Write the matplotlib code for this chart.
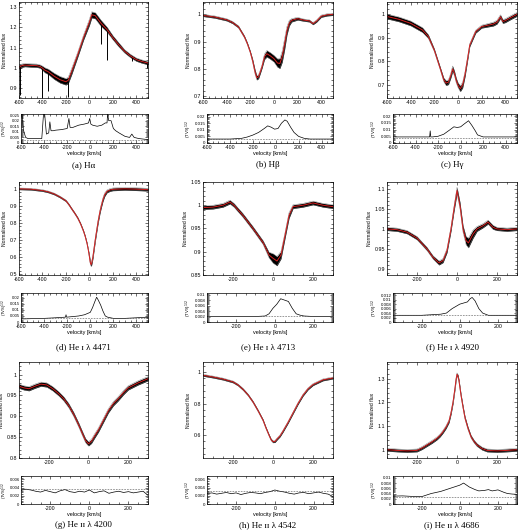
# Line profiles and TVS for nine lines (3x3 grid, each with a TVS strip below)

import matplotlib
matplotlib.use("Agg")
import matplotlib.pyplot as plt
import numpy as np
from matplotlib.ticker import MultipleLocator, FuncFormatter

# ---- (a) H alpha ----
v_a = [-600, -575, -550, -500, -450, -420, -400, -380, -350, -300, -250, -200, -180, -150,
       -100, -50, 0, 20, 50, 100, 150, 200, 250, 300, 350, 400, 450, 500]
f_a = [1.005, 1.012, 1.015, 1.013, 1.012, 1.008, 1.0, 0.99, 0.982, 0.96, 0.943, 0.933, 0.94, 0.985,
       1.065, 1.15, 1.225, 1.262, 1.258, 1.22, 1.19, 1.15, 1.115, 1.083, 1.06, 1.042, 1.032, 1.025]
s_a = [0.01, 0.008, 0.008, 0.008, 0.008, 0.008, 0.01, 0.012, 0.013, 0.015, 0.016, 0.016, 0.015, 0.015,
       0.012, 0.012, 0.015, 0.015, 0.015, 0.015, 0.012, 0.01, 0.01, 0.008, 0.008, 0.008, 0.008, 0.008]
tell_v_a = [-590, -400, -350, -185, 100, 150, 365, 495]
tell_lo_a = [0.87, 0.855, 0.885, 0.86, 1.12, 1.04, 1.035, 1.0]
tv_a = [-600, -590, -580, -560, -540, -500, -450, -420, -405, -395, -380, -360, -350, -340, -320,
        -300, -250, -200, -185, -175, -150, -100, -50, -15, -5, 5, 20, 60, 100, 130, 145, 150,
        160, 180, 200, 220, 250, 300, 340, 360, 380, 420, 460, 500]
tvs_a = [0.026, 0.026, 0.012, 0.005, 0.004, 0.004, 0.004, 0.004, 0.026, 0.026, 0.008, 0.009, 0.019,
         0.011, 0.011, 0.0115, 0.012, 0.013, 0.022, 0.014, 0.014, 0.016, 0.017, 0.018, 0.022, 0.017,
         0.016, 0.015, 0.016, 0.018, 0.018, 0.026, 0.02, 0.02, 0.013, 0.011, 0.009, 0.006, 0.005,
         0.008, 0.005, 0.004, 0.0035, 0.003]

# ---- (b) H beta ----
v_b = [-600, -500, -400, -350, -300, -250, -225, -200, -180, -160, -145, -130, -115, -100, -80,
       -60, -30, 0, 30, 50, 70, 90, 110, 130, 150, 200, 250, 300, 330, 360, 400, 450, 500]
f_b = [0.996, 0.99, 0.98, 0.97, 0.954, 0.918, 0.893, 0.862, 0.83, 0.79, 0.768, 0.772, 0.79, 0.81,
       0.845, 0.856, 0.848, 0.838, 0.822, 0.82, 0.845, 0.89, 0.94, 0.968, 0.978, 0.984, 0.979,
       0.976, 0.966, 0.975, 0.993, 0.998, 1.0]
s_b = [0.004, 0.004, 0.004, 0.004, 0.004, 0.004, 0.004, 0.004, 0.006, 0.008, 0.008, 0.007, 0.006,
       0.006, 0.01, 0.012, 0.012, 0.012, 0.015, 0.018, 0.02, 0.02, 0.015, 0.01, 0.006, 0.005,
       0.004, 0.004, 0.004, 0.004, 0.004, 0.004, 0.004]
tv_b = [-600, -500, -400, -300, -250, -200, -150, -100, -70, -40, -10, 20, 50, 80, 100, 130,
        160, 200, 250, 300, 400, 500]
tvs_b = [0.003, 0.003, 0.003, 0.0035, 0.0045, 0.006, 0.008, 0.011, 0.013, 0.012, 0.0105, 0.011,
         0.015, 0.0175, 0.0165, 0.012, 0.008, 0.005, 0.0035, 0.003, 0.003, 0.003]

# ---- (c) H gamma ----
v_c = [-600, -500, -400, -300, -250, -200, -150, -120, -100, -80, -60, -45, -30, -15, 0, 20,
       40, 60, 80, 100, 150, 200, 300, 330, 360, 380, 400, 450, 500]
f_c = [0.989, 0.977, 0.96, 0.932, 0.904, 0.847, 0.77, 0.722, 0.708, 0.712, 0.74, 0.768, 0.75,
       0.72, 0.7, 0.684, 0.7, 0.745, 0.805, 0.868, 0.925, 0.946, 0.957, 0.965, 0.988, 0.968,
       0.971, 0.985, 0.998]
s_c = [0.01, 0.01, 0.01, 0.01, 0.008, 0.006, 0.006, 0.008, 0.01, 0.01, 0.01, 0.012, 0.01, 0.01,
       0.01, 0.012, 0.012, 0.01, 0.008, 0.006, 0.006, 0.006, 0.008, 0.008, 0.008, 0.008, 0.008,
       0.008, 0.008]
tv_c = [-600, -500, -400, -300, -275, -270, -265, -250, -200, -150, -100, -60, -30, 0, 30, 70,
        100, 130, 150, 200, 300, 400, 500]
tvs_c = [0.0045, 0.0045, 0.0045, 0.0045, 0.0045, 0.009, 0.0045, 0.0045, 0.005, 0.0065, 0.0095,
         0.012, 0.0115, 0.012, 0.014, 0.0165, 0.013, 0.009, 0.006, 0.0045, 0.0045, 0.0045, 0.0045]

# ---- (d) He I 4471 ----
v_d = [-600, -500, -400, -350, -300, -250, -200, -175, -150, -125, -100, -75, -50, -35, -20, -10,
       0, 5, 10, 15, 20, 30, 40, 50, 60, 75, 90, 100, 115, 130, 150, 175, 200, 300, 400, 500]
f_d = [1.0, 0.998, 0.99, 0.982, 0.97, 0.952, 0.93, 0.908, 0.882, 0.857, 0.83, 0.795, 0.752, 0.72,
       0.68, 0.645, 0.605, 0.58, 0.562, 0.556, 0.565, 0.6, 0.65, 0.7, 0.745, 0.81, 0.865, 0.895,
       0.935, 0.965, 0.985, 0.993, 0.997, 1.0, 0.998, 0.995]
s_d = [0.005] * 16 + [0.01] * 14 + [0.008] * 6
tv_d = [-600, -500, -400, -300, -215, -210, -205, -150, -100, -50, 0, 20, 40, 55, 70, 90, 110,
        130, 150, 200, 300, 400, 500]
tvs_d = [0.0025, 0.0028, 0.003, 0.0035, 0.004, 0.006, 0.004, 0.0045, 0.005, 0.006, 0.008, 0.012,
         0.017, 0.0205, 0.018, 0.014, 0.009, 0.005, 0.004, 0.003, 0.003, 0.0035, 0.004]

# ---- (e) He I 4713 ----
v_e = [-350, -300, -250, -215, -195, -150, -100, -50, -20, 0, 20, 40, 60, 80, 100, 150, 200,
       250, 300]
f_e = [0.995, 0.996, 1.0, 1.007, 1.0, 0.978, 0.95, 0.92, 0.893, 0.886, 0.88, 0.893, 0.935,
       0.978, 0.997, 1.0, 1.005, 1.0, 0.997]
s_e = [0.004, 0.004, 0.004, 0.004, 0.004, 0.004, 0.004, 0.004, 0.006, 0.01, 0.01, 0.008, 0.006,
       0.006, 0.004, 0.004, 0.004, 0.004, 0.004]
tv_e = [-350, -300, -250, -200, -150, -100, -50, -30, -10, 10, 30, 50, 70, 90, 110, 130, 150,
        200, 250, 300]
tvs_e = [0.002, 0.002, 0.002, 0.002, 0.002, 0.002, 0.0022, 0.003, 0.005, 0.0065, 0.0085, 0.008,
         0.0075, 0.005, 0.003, 0.0025, 0.0022, 0.002, 0.002, 0.002]

# ---- (f) He I 4920 ----
v_f = [-350, -300, -250, -200, -150, -120, -90, -70, -50, -30, -15, 0, 15, 30, 45, 57, 80, 100,
       130, 155, 180, 200, 250, 300]
f_f = [1.0, 0.998, 0.992, 0.977, 0.95, 0.929, 0.915, 0.921, 0.946, 1.0, 1.05, 1.096, 1.058, 1.0,
       0.971, 0.965, 0.987, 1.0, 1.008, 1.017, 1.004, 1.0, 0.998, 1.0]
s_f = [0.004, 0.004, 0.004, 0.004, 0.004, 0.004, 0.005, 0.005, 0.005, 0.005, 0.006, 0.008,
       0.008, 0.008, 0.01, 0.012, 0.01, 0.006, 0.005, 0.005, 0.005, 0.004, 0.004, 0.004]
tv_f = [-350, -300, -200, -100, -70, -40, -10, 0, 20, 40, 55, 65, 80, 100, 120, 150, 200, 300]
tvs_f = [0.003, 0.003, 0.003, 0.0035, 0.004, 0.006, 0.0075, 0.008, 0.0085, 0.009, 0.0105, 0.011,
         0.0095, 0.006, 0.004, 0.003, 0.003, 0.003]

# ---- (g) He II 4200 ----
v_g = [-350, -325, -300, -270, -240, -210, -180, -150, -125, -100, -75, -50, -30, -15, 0, 15,
       30, 50, 75, 100, 125, 150, 175, 200, 250, 300]
f_g = [0.972, 0.968, 0.966, 0.972, 0.977, 0.975, 0.966, 0.954, 0.942, 0.926, 0.905, 0.88, 0.858,
       0.842, 0.834, 0.84, 0.852, 0.867, 0.89, 0.913, 0.93, 0.942, 0.956, 0.968, 0.98, 0.99]
s_g = [0.005] * len(v_g)
tv_g = list(range(-350, 301, 25))
tvs_g = [0.0033, 0.0036, 0.0034, 0.0031, 0.0029, 0.0033, 0.0030, 0.0027, 0.0032, 0.0035, 0.0030,
         0.0028, 0.0031, 0.0029, 0.0034, 0.0027, 0.0030, 0.0032, 0.0026, 0.0029, 0.0031, 0.0028,
         0.0030, 0.0027, 0.0029, 0.0031, 0.0021]

# ---- (h) He II 4542 ----
v_h = [-350, -300, -250, -200, -175, -150, -125, -100, -75, -50, -35, -20, -10, 0, 10, 20, 35,
       50, 75, 100, 125, 150, 175, 200, 250, 300]
f_h = [0.979, 0.968, 0.955, 0.937, 0.918, 0.89, 0.855, 0.81, 0.755, 0.695, 0.645, 0.6, 0.572,
       0.558, 0.56, 0.575, 0.595, 0.625, 0.68, 0.74, 0.8, 0.853, 0.893, 0.92, 0.95, 0.962]
s_h = [0.006] * len(v_h)
tv_h = list(range(-350, 301, 25))
tvs_h = [0.0025, 0.0027, 0.0024, 0.0026, 0.0028, 0.0025, 0.0027, 0.0023, 0.0026, 0.0028, 0.0027,
         0.0025, 0.0028, 0.0030, 0.0034, 0.0031, 0.0029, 0.0026, 0.0024, 0.0027, 0.0028, 0.0025,
         0.0027, 0.0029, 0.0026, 0.0024, 0.0018]

# ---- (i) He II 4686 ----
v_i = [-350, -300, -250, -200, -175, -150, -125, -100, -85, -70, -55, -40, -30, -20, -10, -5, 0,
       5, 10, 20, 30, 40, 55, 70, 85, 100, 125, 150, 200, 250, 300]
f_i = [1.0, 0.997, 0.995, 0.997, 1.007, 1.02, 1.033, 1.048, 1.06, 1.076, 1.095, 1.12, 1.155, 1.2,
       1.26, 1.295, 1.318, 1.31, 1.29, 1.23, 1.18, 1.134, 1.09, 1.055, 1.035, 1.02, 1.005, 0.997,
       0.995, 0.997, 1.0]
s_i = [0.006] * len(v_i)
tv_i = [-350, -300, -250, -200, -150, -100, -50, 0, 20, 50, 80, 100, 130, 150, 170, 200, 230,
        250, 275, 300]
tvs_i = [0.003, 0.0031, 0.0029, 0.0028, 0.004, 0.0048, 0.006, 0.0072, 0.008, 0.0065, 0.0055,
         0.005, 0.0052, 0.0055, 0.005, 0.0054, 0.0045, 0.004, 0.0038, 0.0037]

captions = ["(a) H\u03b1", "(b) H\u03b2", "(c) H\u03b3",
            "(d) He \u026a \u03bb 4471", "(e) He \u026a \u03bb 4713", "(f) He \u026a \u03bb 4920",
            "(g) He \u026a\u026a \u03bb 4200", "(h) He \u026a\u026a \u03bb 4542", "(i) He \u026a\u026a \u03bb 4686"]
sig_level = [0.003, 0.0028, 0.004, 0.003, 0.0022, 0.003, 0.0037, 0.0032, 0.0025]

panels = [
    (v_a, f_a, s_a, tv_a, tvs_a, (-600, 500), (0.853, 1.325), 0.1, (0, 0.026), 0.005),
    (v_b, f_b, s_b, tv_b, tvs_b, (-600, 500), (0.694, 1.045), 0.1, (0, 0.022), 0.005),
    (v_c, f_c, s_c, tv_c, tvs_c, (-600, 500), (0.645, 1.05), 0.1, (0, 0.0215), 0.005),
    (v_d, f_d, s_d, tv_d, tvs_d, (-600, 500), (0.495, 1.04), 0.1, (0, 0.024), 0.005),
    (v_e, f_e, s_e, tv_e, tvs_e, (-350, 300), (0.85, 1.05), 0.05, (0, 0.0106), 0.002),
    (v_f, f_f, s_f, tv_f, tvs_f, (-350, 300), (0.885, 1.117), 0.05, (0, 0.013), 0.002),
    (v_g, f_g, s_g, tv_g, tvs_g, (-350, 300), (0.8, 1.03), 0.05, (0, 0.0068), 0.002),
    (v_h, f_h, s_h, tv_h, tvs_h, (-350, 300), (0.455, 1.063), 0.2, (0, 0.0068), 0.002),
    (v_i, f_i, s_i, tv_i, tvs_i, (-350, 300), (0.965, 1.37), 0.1, (0, 0.0107), 0.002),
]

W, H = 520, 532
cols_main = [(19, 148), (203, 333), (387, 517)]
cols_tvs = [(21, 148), (207, 333), (393, 517)]
rows_main = [(2, 98), (182, 275), (362, 458)]
rows_tvs = [(114, 143), (293, 322), (476, 504)]
caption_y = [165, 347, 525]

plt.rcParams["font.family"] = ["Liberation Sans", "DejaVu Sans"]
plt.rcParams["font.size"] = 4
plt.rcParams["axes.linewidth"] = 0.5

fig = plt.figure(figsize=(W / 100, H / 100), dpi=100)


def box(l, t, r, b):
    return [l / W, 1 - b / H, (r - l) / W, (b - t) / H]


fmt = FuncFormatter(lambda x, pos: f"{round(x, 6):g}")


def style(ax, ymaj, ysize):
    ax.xaxis.set_major_locator(MultipleLocator(200))
    ax.xaxis.set_minor_locator(MultipleLocator(50))
    ax.yaxis.set_major_locator(MultipleLocator(ymaj))
    ax.yaxis.set_minor_locator(MultipleLocator(ymaj / 5))
    ax.xaxis.set_major_formatter(fmt)
    ax.yaxis.set_major_formatter(fmt)
    ax.tick_params(which="both", direction="in", top=True, right=True, width=0.4, pad=1.5)
    ax.tick_params(axis="x", labelsize=3.8)
    ax.tick_params(axis="y", labelsize=ysize)
    ax.tick_params(which="major", length=2.2)
    ax.tick_params(which="minor", length=1.1)


for k, (v, f, s, tv, tvs, xl, yl, ystep, tl, tstep) in enumerate(panels):
    r, c = divmod(k, 3)

    ax = fig.add_axes(box(cols_main[c][0], rows_main[r][0], cols_main[c][1], rows_main[r][1]))
    f = np.array(f)
    s = np.array(s)
    ax.fill_between(v, f - s, f + s, color="black", lw=0)
    ax.plot(v, f + s, color="0.5", lw=0.3)
    ax.plot(v, f - s, color="0.5", lw=0.3)
    if k == 0:
        tops = np.interp(tell_v_a, v, f)
        ax.vlines(tell_v_a, tell_lo_a, tops, color="black", lw=0.7)
    ax.plot(v, f, color="#d42020", lw=0.7)
    ax.set_xlim(xl)
    ax.set_ylim(yl)
    style(ax, ystep, 3.8)
    ax.set_ylabel("Normalized flux", fontsize=3.6, labelpad=2)

    tl_px = cols_tvs[c]
    tax = fig.add_axes(box(tl_px[0], rows_tvs[r][0], tl_px[1], rows_tvs[r][1]))
    tax.plot(tv, tvs, color="black", lw=0.5)
    tax.axhline(sig_level[k], color="0.3", lw=0.4, ls=(0, (3, 2)))
    tax.set_xlim(xl)
    tax.set_ylim(tl)
    style(tax, tstep, 3.0 if c == 0 else 3.2)
    tax.tick_params(axis="y", pad=1)
    tax.set_ylabel("(TVS)$^{1/2}$", fontsize=3.0 if c == 0 else 3.2)
    if c == 0:
        # keep the label inside the left page edge
        tax.yaxis.set_label_coords((10 - tl_px[0]) / (tl_px[1] - tl_px[0]), 0.5)
    else:
        tax.yaxis.labelpad = 0.5
    tax.set_xlabel("velocity [km/s]", fontsize=4, labelpad=1)

    cx = (cols_main[c][0] + cols_main[c][1]) / 2 / W
    fig.text(cx, 1 - caption_y[r] / H, captions[k], ha="center", va="center",
             fontsize=6.5, family=["Liberation Serif", "DejaVu Serif"])

fig.savefig("out.png", dpi=100)
